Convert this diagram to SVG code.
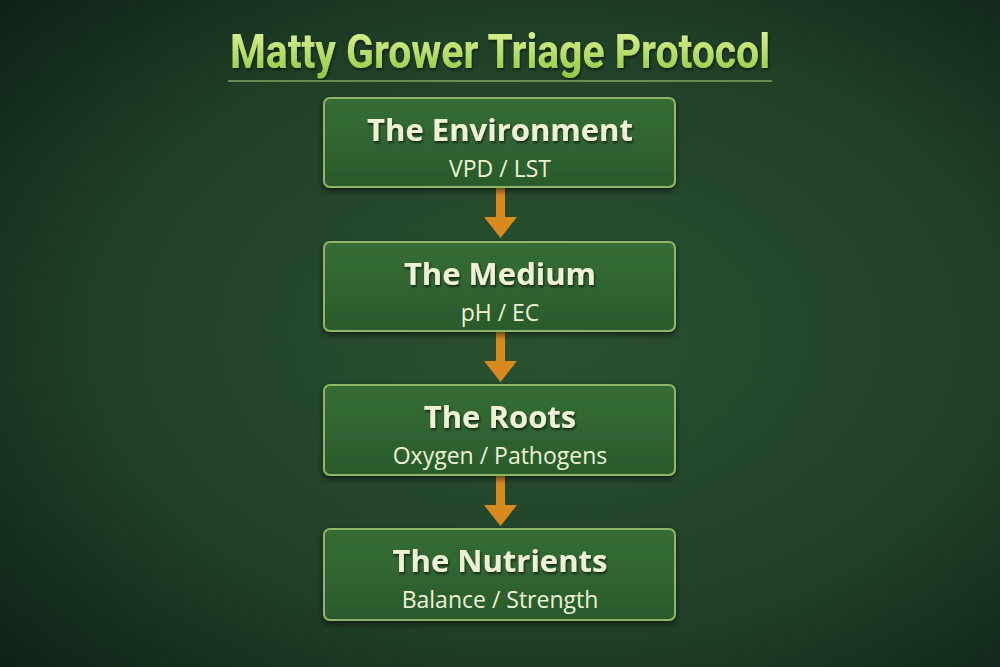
<svg xmlns="http://www.w3.org/2000/svg" width="1000" height="667" viewBox="0 0 1000 667">
<defs>
<radialGradient id="bg" cx="0.55" cy="0.5" r="0.75">
<stop offset="0" stop-color="#2b5230"/>
<stop offset="0.6" stop-color="#1f4027"/>
<stop offset="1" stop-color="#0e2117"/>
</radialGradient>
<linearGradient id="titleGrad" x1="0" y1="0" x2="0" y2="1">
<stop offset="0" stop-color="#e6f7a0"/>
<stop offset="1" stop-color="#8cc63e"/>
</linearGradient>
<linearGradient id="boxGrad" x1="0" y1="0" x2="0" y2="1">
<stop offset="0" stop-color="#356d36"/>
<stop offset="1" stop-color="#2a5a2c"/>
</linearGradient>
<filter id="shadow" x="-10%" y="-20%" width="120%" height="150%">
<feDropShadow dx="0" dy="3" stdDeviation="3" flood-color="#000" flood-opacity="0.55"/>
</filter>
<filter id="tshadow" x="-10%" y="-30%" width="120%" height="160%">
<feDropShadow dx="1" dy="2" stdDeviation="1.2" flood-color="#0a1a0a" flood-opacity="0.8"/>
</filter>
</defs>
<style>
.box{fill:url(#boxGrad);stroke:#8fb46a;stroke-width:2;filter:url(#shadow)}
.t{font-family:"Open Sans","Noto Sans",sans-serif;font-weight:700;font-size:31px;fill:#eef2d4;text-anchor:middle;filter:url(#tshadow)}
.s{font-family:"Open Sans","Noto Sans",sans-serif;font-size:23px;fill:#eef2d4;text-anchor:middle}
.arrow{fill:#d98a1e}
</style>
<rect width="1000" height="667" fill="url(#bg)"/>
<g id="title">
<text x="500" y="68" font-family="Roboto,'Open Sans',sans-serif" font-weight="700" font-size="48" text-anchor="middle" fill="url(#titleGrad)" textLength="540" lengthAdjust="spacingAndGlyphs" filter="url(#tshadow)">Matty Grower Triage Protocol</text>
<line x1="228" y1="81" x2="772" y2="81" stroke="#7fa860" stroke-width="1.5"/>
</g>
<g id="connectors">
<path class="arrow" d="M496 188 H505 V217 H517 L500.5 238 L484 217 H496 Z"/>
<path class="arrow" d="M496 332 H505 V361 H517 L500.5 382 L484 361 H496 Z"/>
<path class="arrow" d="M496 476 H505 V505 H517 L500.5 526 L484 505 H496 Z"/>
</g>
<g id="environment">
<rect class="box" x="324" y="98" width="351" height="89" rx="6"/>
<text class="t" x="500" y="141">The Environment</text>
<text class="s" x="500" y="177">VPD / LST</text>
</g>
<g id="medium">
<rect class="box" x="324" y="242" width="351" height="89" rx="6"/>
<text class="t" x="500" y="285">The Medium</text>
<text class="s" x="500" y="321">pH / EC</text>
</g>
<g id="roots">
<rect class="box" x="324" y="385" width="351" height="90" rx="6"/>
<text class="t" x="500" y="428">The Roots</text>
<text class="s" x="500" y="464">Oxygen / Pathogens</text>
</g>
<g id="nutrients">
<rect class="box" x="324" y="529" width="351" height="91" rx="6"/>
<text class="t" x="500" y="572">The Nutrients</text>
<text class="s" x="500" y="608">Balance / Strength</text>
</g>
</svg>
